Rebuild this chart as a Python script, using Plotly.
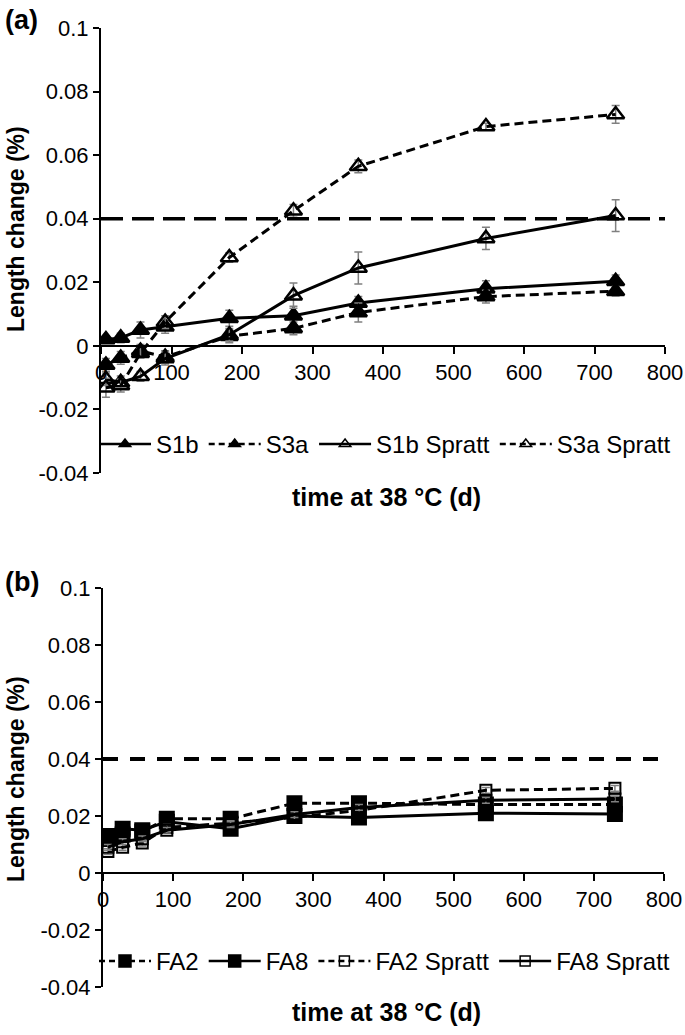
import plotly.graph_objects as go

# ---------------- data ----------------
days = [7, 28, 56, 91, 182, 273, 365, 546, 730]

# panel (a)
s1b = [0.002, 0.0025, 0.005, 0.006, 0.0087, 0.0095, 0.0135, 0.018, 0.0203]
s1b_err = [0.001, 0.0015, 0.0025, 0.002, 0.0025, 0.003, 0.002, 0.0025, 0.002]
s3a = [-0.006, -0.0038, -0.0016, -0.0035, 0.003, 0.0055, 0.0105, 0.0155, 0.0172]
s3a_err = [0.002, 0.002, 0.002, 0.002, 0.002, 0.002, 0.003, 0.002, 0.0015]
s1b_spratt = [-0.0105, -0.0115, -0.0096, -0.004, 0.0035, 0.0158, 0.0245, 0.0338, 0.041]
s1b_spratt_err = [0.002, 0.002, 0.0015, 0.002, 0.002, 0.004, 0.005, 0.0035, 0.005]
s3a_spratt = [-0.0132, -0.0125, -0.0023, 0.0075, 0.0278, 0.0425, 0.0565, 0.069, 0.0728]
s3a_spratt_err = [0.003, 0.002, 0.0015, 0.002, 0.0015, 0.002, 0.002, 0.001, 0.0028]

# panel (b)
fa2 = [0.012, 0.0135, 0.0145, 0.019, 0.019, 0.0245, 0.0245, 0.024, 0.024]
fa8 = [0.013, 0.0155, 0.015, 0.018, 0.0155, 0.020, 0.0195, 0.021, 0.0207]
fa2_spratt = [0.0075, 0.009, 0.0105, 0.016, 0.0175, 0.0195, 0.022, 0.029, 0.0297]
fa8_spratt = [0.009, 0.011, 0.012, 0.015, 0.017, 0.0205, 0.023, 0.0255, 0.026]
b_err = [0.001] * 9

limit = 0.04
x_ticks = [0, 100, 200, 300, 400, 500, 600, 700, 800]
y_ticks = [-0.04, -0.02, 0, 0.02, 0.04, 0.06, 0.08, 0.1]
y_ticktext = ["-0.04", "-0.02", "0", "0.02", "0.04", "0.06", "0.08", "0.1"]

# ---------------- layout geometry ----------------
W, H = 685, 1035
FONT = "Liberation Sans, Arial, sans-serif"

def px_x(p):
    return p / W

def px_y(p):
    return 1 - p / H

a_dom_x = [px_x(101), px_x(665)]
a_dom_y = [px_y(473), px_y(28)]
b_dom_x = [px_x(103), px_x(664)]
b_dom_y = [px_y(987), px_y(588)]

ymin, ymax = -0.04, 0.1
zero_frac = (0 - ymin) / (ymax - ymin)
a_zero = a_dom_y[0] + zero_frac * (a_dom_y[1] - a_dom_y[0])
b_zero = b_dom_y[0] + zero_frac * (b_dom_y[1] - b_dom_y[0])

fig = go.Figure()

GREY = "#808080"

def err(vals):
    return dict(type="data", array=vals, visible=True, color=GREY, thickness=1.5, width=4)

a_series = [
    ("S1b", s1b, s1b_err, "solid", "triangle-up"),
    ("S3a", s3a, s3a_err, "9px,5px", "triangle-up"),
    ("S1b Spratt", s1b_spratt, s1b_spratt_err, "solid", "triangle-up-open"),
    ("S3a Spratt", s3a_spratt, s3a_spratt_err, "9px,5px", "triangle-up-open"),
]
for name, vals, e, dash, sym in a_series:
    fig.add_trace(go.Scatter(
        x=days, y=vals, name=name, mode="lines+markers", showlegend=False,
        line=dict(color="black", width=3, dash=dash),
        marker=dict(symbol=sym, size=15, color="black",
                    line=dict(color="black", width=2.5)),
        error_y=err(e), xaxis="x", yaxis="y",
    ))
    # legend entry with the small legend marker
    fig.add_trace(go.Scatter(
        x=[None], y=[None], name=name, mode="lines+markers",
        line=dict(color="black", width=2.5, dash="6px,4px" if dash != "solid" else "solid"),
        marker=dict(symbol=sym, size=10, color="black", line=dict(color="black", width=1.5)),
        xaxis="x", yaxis="y", legend="legend",
    ))

b_series = [
    ("FA2", fa2, "9px,5px", "square", 14),
    ("FA8", fa8, "solid", "square", 14),
    ("FA2 Spratt", fa2_spratt, "9px,5px", "square-open", 11),
    ("FA8 Spratt", fa8_spratt, "solid", "square-open", 11),
]
for name, vals, dash, sym, sz in b_series:
    fig.add_trace(go.Scatter(
        x=days, y=vals, name=name, mode="lines+markers", showlegend=False,
        line=dict(color="black", width=3, dash=dash),
        marker=dict(symbol=sym, size=sz, color="black",
                    line=dict(color="black", width=2)),
        error_y=err(b_err), xaxis="x2", yaxis="y2",
    ))
    fig.add_trace(go.Scatter(
        x=[None], y=[None], name=name, mode="lines+markers",
        line=dict(color="black", width=2.5, dash="6px,4px" if dash != "solid" else "solid"),
        marker=dict(symbol=sym, size=12 if sym == "square" else 10, color="black",
                    line=dict(color="black", width=1.5)),
        xaxis="x2", yaxis="y2", legend="legend2",
    ))

# limit lines
fig.add_trace(go.Scatter(x=[0, 800], y=[limit, limit], mode="lines",
                         line=dict(color="black", width=3.5, dash="22px,9px"),
                         showlegend=False, hoverinfo="skip", xaxis="x", yaxis="y"))
fig.add_trace(go.Scatter(x=[0, 800], y=[limit, limit], mode="lines",
                         line=dict(color="black", width=4, dash="15px,12px"),
                         showlegend=False, hoverinfo="skip", xaxis="x2", yaxis="y2"))

tickfont = dict(family=FONT, size=22, color="black")

def xaxis(dom, pos):
    return dict(domain=dom, range=[0, 800], tickvals=x_ticks,
                ticktext=[str(v) for v in x_ticks], showline=True, linecolor="black",
                linewidth=2, ticks="outside", ticklen=7, tickwidth=2, tickcolor="black",
                showgrid=False, zeroline=False, anchor="free", position=pos,
                automargin=False, ticklabeloverflow="allow", tickfont=tickfont)

def yaxis(dom, xref):
    return dict(domain=dom, range=[ymin, ymax], tickvals=y_ticks, ticktext=y_ticktext,
                showline=True, linecolor="black", linewidth=2, ticks="outside",
                ticklen=6, tickwidth=2, tickcolor="black", showgrid=False,
                zeroline=False, anchor=xref, automargin=False,
                ticklabeloverflow="allow", tickfont=tickfont)

legend_common = dict(orientation="h", xanchor="left", yanchor="middle",
                     bgcolor="rgba(0,0,0,0)", itemwidth=52, tracegroupgap=0,
                     font=dict(family=FONT, size=24, color="black"))

a_leg_y = a_dom_y[0] + ((-0.031) - ymin) / (ymax - ymin) * (a_dom_y[1] - a_dom_y[0])
b_leg_y = b_dom_y[0] + ((-0.031) - ymin) / (ymax - ymin) * (b_dom_y[1] - b_dom_y[0])

fig.update_layout(
    width=W, height=H, margin=dict(l=0, r=0, t=0, b=0, autoexpand=False),
    paper_bgcolor="white", plot_bgcolor="white",
    font=dict(family=FONT, color="black"),
    xaxis=xaxis(a_dom_x, a_zero),
    yaxis=yaxis(a_dom_y, "x"),
    xaxis2=xaxis(b_dom_x, b_zero),
    yaxis2=yaxis(b_dom_y, "x2"),
    legend=dict(x=px_x(94), y=a_leg_y, **legend_common),
    legend2=dict(x=px_x(94), y=b_leg_y, **legend_common),
    showlegend=True,
)

annots = [
    dict(text="<b>(a)</b>", x=px_x(3), y=px_y(20), xanchor="left", yanchor="middle",
         font=dict(family=FONT, size=27, color="black")),
    dict(text="<b>(b)</b>", x=px_x(3), y=px_y(582), xanchor="left", yanchor="middle",
         font=dict(family=FONT, size=27, color="black")),
    dict(text="<b>time at 38 °C (d)</b>", x=px_x(386), y=px_y(497), xanchor="center",
         yanchor="middle", font=dict(family=FONT, size=25, color="black")),
    dict(text="<b>time at 38 °C (d)</b>", x=px_x(386), y=px_y(1012), xanchor="center",
         yanchor="middle", font=dict(family=FONT, size=25, color="black")),
    dict(text="<b>Length change (%)</b>", x=px_x(16), y=px_y(229), xanchor="center",
         yanchor="middle", textangle=-90, font=dict(family=FONT, size=23, color="black")),
    dict(text="<b>Length change (%)</b>", x=px_x(16), y=px_y(779), xanchor="center",
         yanchor="middle", textangle=-90, font=dict(family=FONT, size=23, color="black")),
]
for a in annots:
    a.update(xref="paper", yref="paper", showarrow=False)
fig.update_layout(annotations=annots)

# remove the browser's default 8px body margin so the figure sits at the page origin
fig.write_html("out.html", config={"displayModeBar": False},
               post_script="document.body.style.margin='0';")
